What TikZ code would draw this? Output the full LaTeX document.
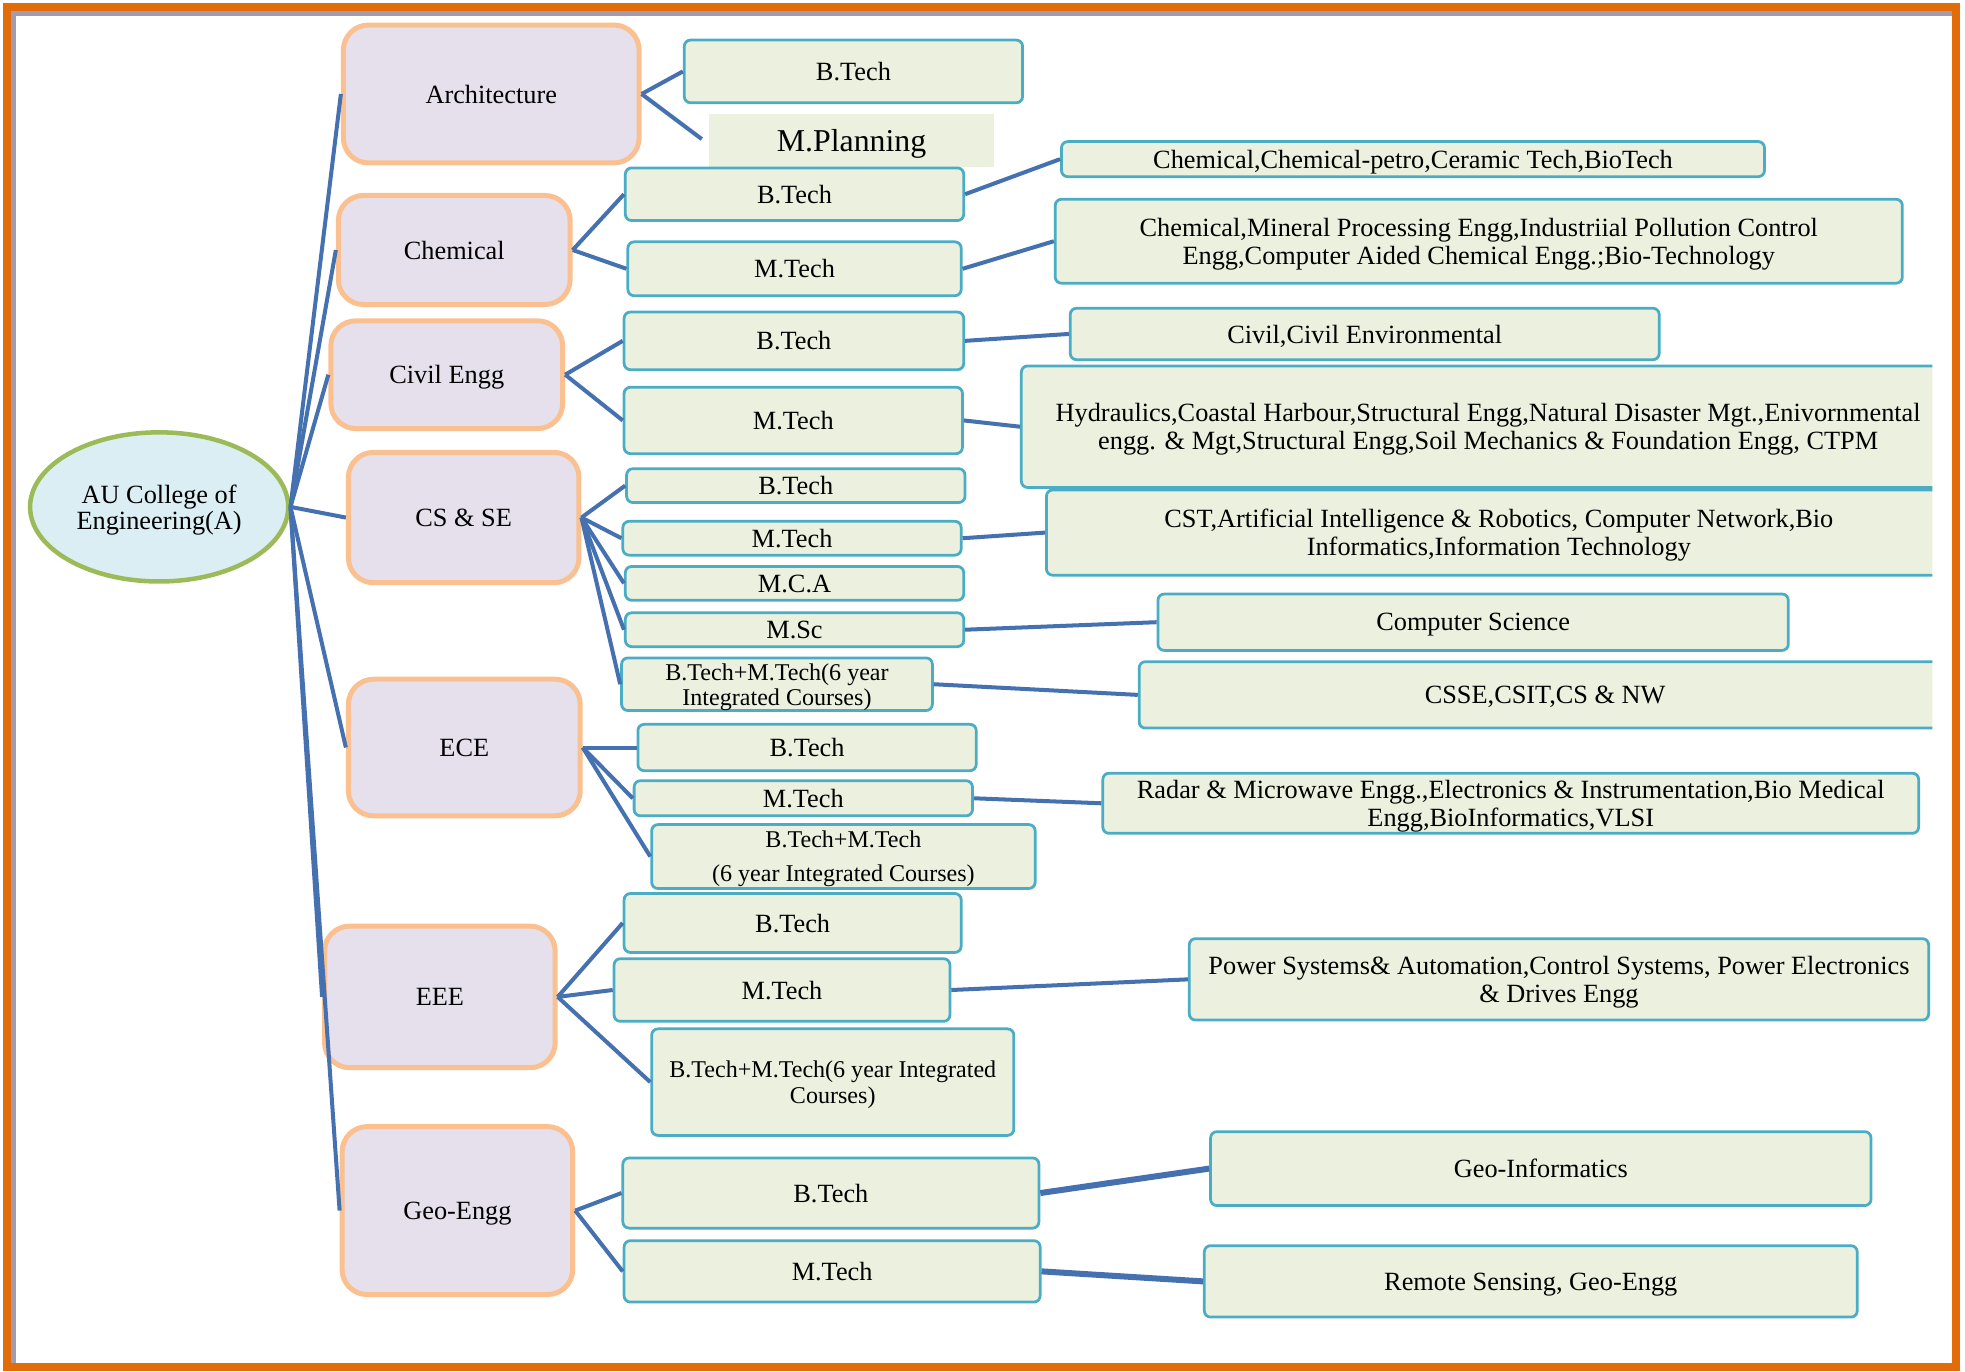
\documentclass[tikz,border=0pt]{standalone}
\usepackage{fontspec}
\setmainfont{Liberation Serif}
\usetikzlibrary{shapes.geometric}

\definecolor{rootblue}{HTML}{DAEEF3}
\definecolor{rootgreen}{HTML}{9BBB59}
\definecolor{deptlilac}{HTML}{E5E0EC}
\definecolor{deptorange}{HTML}{FAC090}
\definecolor{boxgreen}{HTML}{EBF1DE}
\definecolor{boxcyan}{HTML}{4BACC6}
\definecolor{linkblue}{HTML}{4571B0}
\definecolor{frameorange}{HTML}{E36C0A}
\definecolor{framegray}{HTML}{A39CB0}

\begin{document}
\begin{tikzpicture}[x=0.5pt,y=-0.5pt,
root/.style = {ellipse,draw=rootgreen,line width=1.8pt,fill=rootblue,align=center,inner sep=0pt,text depth=0pt,font=\fontsize{10.5}{10.5}\selectfont},
dept/.style = {rectangle,rounded corners=10pt,draw=deptorange,line width=2pt,fill=deptlilac,text depth=0pt,font=\fontsize{10.5}{12}\selectfont},
course/.style = {rectangle,rounded corners=2.5pt,draw=boxcyan,line width=1.1pt,fill=boxgreen,align=center,inner sep=1pt,text depth=0pt,font=\fontsize{10.5}{11.2}\selectfont},
integ/.style = {course,font=\fontsize{9.6}{10}\selectfont},
link/.style = {draw=linkblue,line width=1.6pt},
]

\useasboundingbox (0,0) rectangle (1568,1094.8);
\draw[framegray,line width=2pt] (10.8,1088) -- (10.8,10.8) -- (1558,10.8);
\draw[frameorange,line width=3.2pt] (5.6,5.6) rectangle (1561,1091);

\node[root,minimum width=103pt,minimum height=59.5pt] (au) at (127,404.5) {AU College of\\Engineering(A)};

\node[dept,minimum width=118pt,minimum height=55pt] (arch) at (392,75) {Architecture};
\node[dept,minimum width=92.5pt,minimum height=43.5pt] (chem) at (362.5,199.5) {Chemical};
\node[dept,minimum width=92.5pt,minimum height=43pt] (civil) at (356.5,299) {Civil Engg};
\node[dept,minimum width=92pt,minimum height=52pt] (csse) at (370,413) {CS \& SE};
\node[dept,minimum width=92.5pt,minimum height=54.5pt] (ece) at (370.5,596.5) {ECE};
\node[dept,minimum width=92pt,minimum height=56.5pt] (eee) at (351,795.5) {EEE};
\node[dept,minimum width=92pt,minimum height=67pt] (geo) at (365,966) {Geo-Engg};

\node[course,minimum width=135pt,minimum height=25pt] (archB) at (681,57) {B.Tech};
\node[course,draw=none,rounded corners=0pt,minimum width=113.5pt,minimum height=21pt,font=\fontsize{12.7}{14}\selectfont] (archM) at (679.5,112) {M.Planning};
\coordinate (archMend) at (560,111);

\node[course,minimum width=135pt,minimum height=21pt] (chemB) at (634,155) {B.Tech};
\node[course,minimum width=133pt,minimum height=21.5pt] (chemM) at (634,214.5) {M.Tech};
\node[course,minimum width=280.5pt,minimum height=14pt] (chemB3) at (1127.5,127) {Chemical,Chemical-petro,Ceramic Tech,BioTech};
\node[course,minimum width=338pt,minimum height=33.5pt] (chemM3) at (1180,192.5) {Chemical,Mineral Processing Engg,Industriial Pollution Control\\Engg,Computer Aided Chemical Engg.;Bio-Technology};

\node[course,minimum width=135.5pt,minimum height=23pt] (civB) at (633.5,272) {B.Tech};
\node[course,minimum width=135pt,minimum height=26.5pt] (civM) at (633,335.5) {M.Tech};
\node[course,minimum width=235pt,minimum height=20.5pt] (civB3) at (1089,266.5) {Civil,Civil Environmental};

\node[course,minimum width=135pt,minimum height=13.5pt] (csB) at (635,387.5) {B.Tech};
\node[course,minimum width=135pt,minimum height=13.5pt] (csM) at (632,429.5) {M.Tech};
\node[course,minimum width=135pt,minimum height=13.5pt] (csMCA) at (634,465.5) {M.C.A};
\node[course,minimum width=135pt,minimum height=13.5pt] (csMSc) at (634,502.5) {M.Sc};
\node[integ,minimum width=124pt,minimum height=21pt] (csInt) at (620,546) {B.Tech+M.Tech(6 year\\Integrated Courses)};
\node[course,minimum width=251.5pt,minimum height=22.5pt] (csMSc3) at (1175.5,496.5) {Computer Science};

\begin{scope}
\clip (0,0) rectangle (1542,1094.8);
\node[course,minimum width=372.5pt,minimum height=48.5pt] (civM3) at (1187.5,340.5) {Hydraulics,Coastal Harbour,Structural Engg,Natural Disaster Mgt.,Enivornmental\\engg. \& Mgt,Structural Engg,Soil Mechanics \& Foundation Engg, CTPM};
\node[course,minimum width=361pt,minimum height=34pt] (csM3) at (1196,425) {CST,Artificial Intelligence \& Robotics, Computer Network,Bio\\Informatics,Information Technology};
\node[course,minimum width=324pt,minimum height=26.5pt] (csInt3) at (1233,554.5) {CSSE,CSIT,CS \& NW};
\end{scope}

\node[course,minimum width=135pt,minimum height=18.5pt] (eceB) at (644,596.5) {B.Tech};
\node[course,minimum width=135pt,minimum height=14pt] (eceM) at (641,637) {M.Tech};
\node[integ,minimum width=153pt,minimum height=25.5pt] (eceInt) at (673,683.5) {B.Tech+M.Tech\\[3.5pt](6 year Integrated Courses)};
\node[course,minimum width=325.5pt,minimum height=24pt] (eceM3) at (1205.5,641) {Radar \& Microwave Engg.,Electronics \& Instrumentation,Bio Medical\\Engg,BioInformatics,VLSI};

\node[course,minimum width=134.5pt,minimum height=23.5pt] (eeeB) at (632.5,736.5) {B.Tech};
\node[course,minimum width=134pt,minimum height=25pt] (eeeM) at (624,790) {M.Tech};
\node[integ,minimum width=144.5pt,minimum height=42.5pt] (eeeInt) at (664.5,863.5) {B.Tech+M.Tech(6 year Integrated\\Courses)};
\node[course,minimum width=295pt,minimum height=32.5pt] (eeeM3) at (1244,781.5) {Power Systems\& Automation,Control Systems, Power Electronics\\\& Drives Engg};

\node[course,minimum width=166pt,minimum height=28pt] (geoB) at (663,952) {B.Tech};
\node[course,minimum width=166pt,minimum height=24.5pt] (geoM) at (664,1014.5) {M.Tech};
\node[course,minimum width=263.5pt,minimum height=29.5pt] (geoB3) at (1229.5,932.5) {Geo-Informatics};
\node[course,minimum width=260.5pt,minimum height=28.5pt] (geoM3) at (1221.5,1022.5) {Remote Sensing, Geo-Engg};

\foreach \d in {arch,chem,civil,csse,ece,eee,geo}
  \draw[link] (au.east) -- (\d.west);

\draw[link] (arch.east) -- (archB.west);
\draw[link] (arch.east) -- (archMend);

\draw[link] (chem.east) -- (chemB.west);
\draw[link] (chem.east) -- (chemM.west);
\draw[link] (chemB.east) -- (chemB3.west);
\draw[link] (chemM.east) -- (chemM3.west);

\draw[link] (civil.east) -- (civB.west);
\draw[link] (civil.east) -- (civM.west);
\draw[link] (civB.east) -- (civB3.west);
\draw[link] (civM.east) -- (civM3.west);

\foreach \c in {csB,csM,csMCA,csMSc,csInt}
  \draw[link] (csse.east) -- (\c.west);
\draw[link] (csM.east) -- (csM3.west);
\draw[link] (csMSc.east) -- (csMSc3.west);
\draw[link] (csInt.east) -- (csInt3.west);

\foreach \c in {eceB,eceM,eceInt}
  \draw[link] (ece.east) -- (\c.west);
\draw[link] (eceM.east) -- (eceM3.west);

\foreach \c in {eeeB,eeeM,eeeInt}
  \draw[link] (eee.east) -- (\c.west);
\draw[link] (eeeM.east) -- (eeeM3.west);

\draw[link] (geo.east) -- (geoB.west);
\draw[link] (geo.east) -- (geoM.west);
\draw[link,line width=2.4pt] (geoB.east) -- (geoB3.west);
\draw[link,line width=2.4pt] (geoM.east) -- (geoM3.west);

\end{tikzpicture}
\end{document}
